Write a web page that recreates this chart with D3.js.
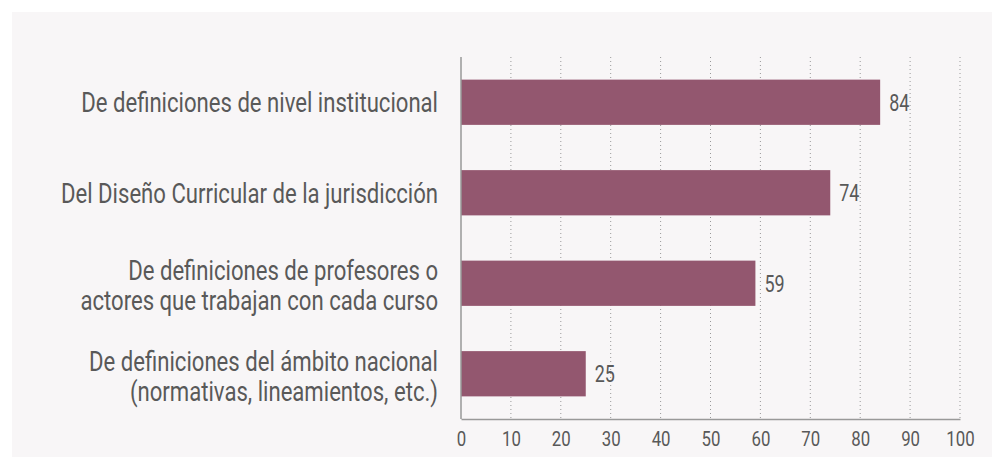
<!DOCTYPE html>
<html><head><meta charset="utf-8">
<script src="https://cdn.jsdelivr.net/npm/d3@7/dist/d3.min.js"></script>
<style>
html,body{margin:0;padding:0;background:#fff;}
svg{display:block;}
text{font-family:Roboto,"Liberation Sans Narrow","DejaVu Sans Condensed",sans-serif;fill:#595959;}
</style></head>
<body>
<script>
const categories = [
  ["De definiciones de nivel institucional"],
  ["Del Diseño Curricular de la jurisdicción"],
  ["De definiciones de profesores o","actores que trabajan con cada curso"],
  ["De definiciones del ámbito nacional","(normativas, lineamientos, etc.)"]
];
const values = [84, 74, 59, 25];
const ticks = [0,10,20,30,40,50,60,70,80,90,100];

const W = 992, H = 457;
const svg = d3.select("body").append("svg").attr("width", W).attr("height", H);
svg.append("rect").attr("x",12).attr("y",12).attr("width",W-12).attr("height",H-12).attr("fill","#f8f6f7");

const x = d3.scaleLinear().domain([0,100]).range([461,960]);
const y = d3.scaleBand().domain(d3.range(categories.length)).range([57,419]).paddingInner(0.5).paddingOuter(0.25);

// grid
svg.append("g").selectAll("line").data(ticks.slice(1)).join("line")
  .attr("x1",d=>x(d)).attr("x2",d=>x(d)).attr("y1",57).attr("y2",419)
  .attr("stroke","#999").attr("stroke-width",1).attr("stroke-dasharray","1,3");

// bars
svg.append("g").selectAll("rect").data(values).join("rect")
  .attr("x",x(0)).attr("y",(d,i)=>y(i)).attr("width",d=>x(d)-x(0)).attr("height",y.bandwidth())
  .attr("fill","#93576f");

// value labels
svg.append("g").selectAll("text").data(values).join("text")
  .attr("transform",(d,i)=>`translate(${x(d)+9},${y(i)+y.bandwidth()/2}) scale(0.78,1)`)
  .attr("dy","0.36em").attr("font-size",23).text(d=>d);

// x axis
const xAxis = d3.axisBottom(x).tickValues(ticks).tickSize(0).tickPadding(12);
const gx = svg.append("g").attr("transform","translate(0,419)").call(xAxis);
gx.select(".domain").attr("stroke","#999").attr("stroke-width",1.5);
gx.selectAll("text").attr("font-size",21).attr("fill","#595959")
  .attr("transform","scale(0.8,1)")
  .style("font-family",'Roboto,sans-serif');

// y axis line
svg.append("line").attr("x1",461).attr("x2",461).attr("y1",57).attr("y2",419).attr("stroke","#999").attr("stroke-width",1.5);

// category labels
const lab = svg.append("g").selectAll("text").data(categories).join("text")
  .attr("text-anchor","end").attr("font-size",28)
  .attr("transform",(d,i)=>`translate(438,${y(i)+y.bandwidth()/2}) scale(0.79,1)`);
lab.each(function(d){
  const t = d3.select(this);
  const n = d.length, lh = 30;
  d.forEach((s,k)=>{
    t.append("tspan").attr("x",0).attr("y",(k-(n-1)/2)*lh + (n>1?2:0)).attr("dy","0.36em").text(s);
  });
});
</script>
</body></html>
